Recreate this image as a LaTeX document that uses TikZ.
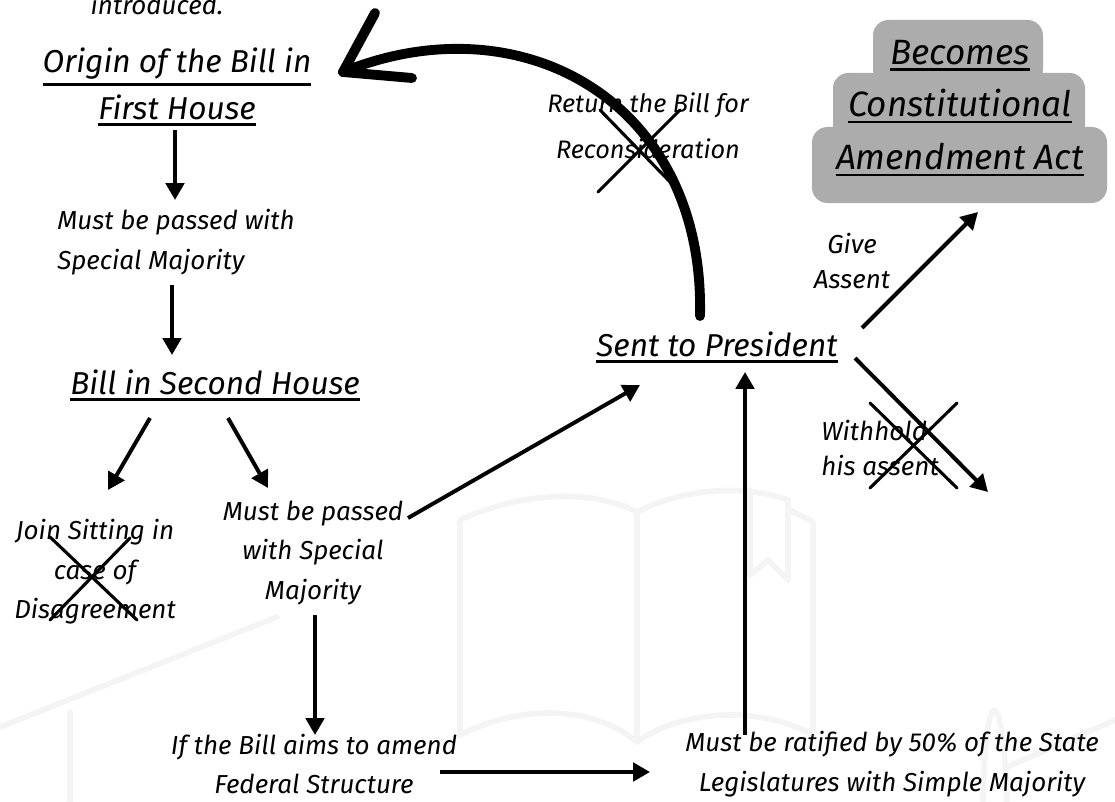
\documentclass[tikz,border=0pt]{standalone}
\usepackage{fontspec}
\setmainfont{Fira Sans}
\usetikzlibrary{arrows.meta, calc}
\usetikzlibrary{positioning}
\newcommand{\uln}[1]{\leavevmode\vtop{\hbox{#1}\kern2.5pt\hrule height 1.8pt}}
\tikzstyle{note} = [font=\itshape\fontsize{18.5}{28}\selectfont, align=center, inner sep=0pt]
\tikzstyle{smallnote} = [font=\itshape\fontsize{18}{33}\selectfont, align=center, inner sep=0pt]
\tikzstyle{title} = [font=\itshape\fontsize{22.5}{33}\selectfont, align=center, inner sep=0pt]
\tikzstyle{boxtitle} = [font=\itshape\fontsize{25}{37.5}\selectfont, align=center, inner sep=0pt]
\tikzstyle{arrow} = [line width=2.8pt, -{Triangle[length=12pt,width=13pt]}]
\tikzstyle{cross} = [line width=2.2pt, line cap=round]
\tikzstyle{back} = [line width=7pt, line cap=round, line join=round]
\tikzstyle{faint} = [draw=gray!9, line width=4pt, line cap=round, line join=round]

\begin{document}
\begin{tikzpicture}[x=0.025cm, y=-0.025cm]
        \clip (0,0) rectangle (1115,801);
        \fill[white] (0,0) rectangle (1115,801);
        %faint book in the background
        \draw[faint] (460,735) -- (460,520) .. controls (530,488) and (600,492) .. (637,512) -- (637,742);
        \draw[faint] (637,512) .. controls (680,490) and (740,483) .. (788,500) -- (788,580) -- (768,560) -- (750,575) -- (750,490);
        \draw[faint] (790,510) -- (813,522) -- (813,735);
        \draw[faint] (460,735) .. controls (530,700) and (600,710) .. (637,742) .. controls (680,710) and (760,705) .. (813,735);
        \draw[faint] (0,727) -- (277,617);
        \draw[faint] (70,712) -- (70,801);
        \draw[faint] (983,801) .. controls (985,680) and (1003,680) .. (1007,801);
        \draw[faint] (1007,767) -- (1115,720);
        %first house
        \node (intro) [note, anchor=base] at (157,15) {introduced.};
        \node (origin) [title] at (177,87) {\uln{Origin of the Bill in}\\\uln{First House}};
        \node (must1) [note, align=left] at (176,242) {Must be passed with\\Special Majority};
        %second house
        \node (second) [title] at (215,385) {\uln{Bill in Second House}};
        \node (join) [note] at (95,572) {Join Sitting in\\case of\\Disagreement};
        \node (must2) [note] at (313,553) {Must be passed\\with Special\\Majority};
        \node (federal) [note] at (314,764) {If the Bill aims to amend\\Federal Structure};
        \node (ratify) [note] at (892,764) {Must be ratified by 50\% of the State\\Legislatures with Simple Majority};
        %president
        \node (sent) [title] at (717,347) {\uln{Sent to President}};
        \node (returnb) [smallnote] at (648,126) {Return the Bill for\\Reconsideration};
        \fill[gray!65, rounded corners=11pt] (873,20) rectangle (1043,85);
        \fill[gray!65, rounded corners=11pt] (833,73) rectangle (1085,140);
        \fill[gray!65, rounded corners=11pt] (812,127) rectangle (1107,203);
        \node (act) [boxtitle] at (960,108) {\uln{Becomes}\\\uln{Constitutional}\\\uln{Amendment Act}};
        \node (give) [note, font=\itshape\fontsize{18.5}{25.5}\selectfont] at (852,261) {Give\\Assent};
        \node (withhold) [note, align=left, font=\itshape\fontsize{18.5}{25.5}\selectfont] at (880,448) {Withhold\\his assent};
        %arrows
        \draw [arrow] ($(origin)+(-2,43)$) -- ($(must1)+(-1,-42)$);
        \draw [arrow] ($(must1)+(-4,43)$) -- ($(second)+(-43,-30)$);
        \draw [arrow] ($(second)+(-65,33)$) -- ($(join)+(13,-82)$);
        \draw [arrow] ($(second)+(13,33)$) -- ($(must2)+(-45,-65)$);
        \draw [arrow] ($(must2)+(95,-35)$) -- ($(sent)+(-77,38)$);
        \draw [arrow] ($(must2)+(2,62)$) -- ($(federal)+(1,-29)$);
        \draw [arrow] ($(federal)+(126,8)$) -- ($(ratify)+(-242,8)$);
        \draw [arrow] ($(ratify)+(-147,-29)$) -- ($(sent)+(28,25)$);
        \draw [arrow] ($(sent)+(145,-19)$) -- ($(act)+(18,104)$);
        \draw [arrow] ($(sent)+(138,11)$) -- ($(withhold)+(108,44)$);
        %return for reconsideration
        \coordinate (backtip) at ($(origin)+(166,-15)$);
        \draw [back] ($(sent)+(-17,-31)$) .. controls (705,100) and (520,0) .. (backtip);
        \draw [back] (375,13) -- (backtip) -- (412,78);
        %crossed out
        \draw [cross, shift={(join)}] (-45,-35) -- (42,48) (-45,48) -- (35,-34);
        \draw [cross, shift={(returnb)}] (-48,-16) -- (25,59) (-50,66) -- (32,-16);
        \draw [cross, shift={(withhold)}] (-10,-45) -- (77,40) (-10,40) -- (77,-45);
\end{tikzpicture}
\end{document}
